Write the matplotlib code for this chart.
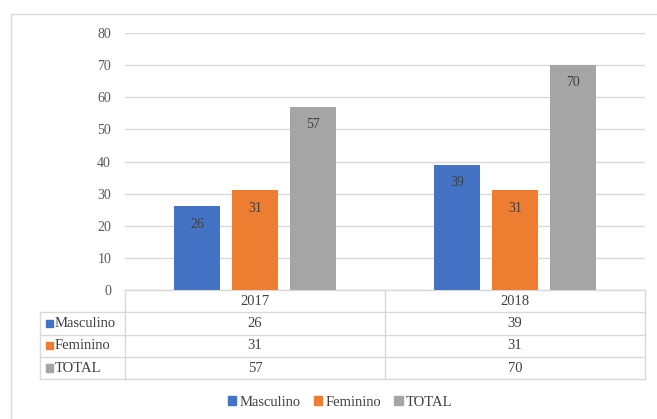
import matplotlib.pyplot as plt
from matplotlib.patches import Rectangle
import numpy as np

plt.rcParams['font.family'] = ['Liberation Serif', 'DejaVu Serif']

years = ['2017', '2018']
series = ['Masculino', 'Feminino', 'TOTAL']
masculino = [26, 39]
feminino = [31, 31]
total = [57, 70]
values = [masculino, feminino, total]
colors = ['#4472C4', '#ED7D31', '#A5A5A5']
grid_c = '#D9D9D9'
txt_c = '#595959'

W, H = 657, 419
fig = plt.figure(figsize=(W / 100, H / 100), dpi=100)
# outer chart border
fig.patches.append(Rectangle((11 / W, -0.1), 1.1, 1 - 14 / H + 0.1, transform=fig.transFigure,
                             fill=False, ec=grid_c, lw=1))

ax = fig.add_axes([125 / W, 1 - 290 / H, 520 / W, 257 / H])
x = np.arange(len(years))
offs = [-0.222, 0, 0.222]
bw = 0.178
for vals, off, c in zip(values, offs, colors):
    bars = ax.bar(x + off, vals, bw, color=c, zorder=3)
    for b, v in zip(bars, vals):
        ax.text(b.get_x() + bw / 2, v - 5.5, str(v), ha='center', va='center',
                fontsize=10, color='#404040', zorder=4)

ax.set_xlim(-0.5, 1.5)
ax.set_ylim(0, 80)
ax.set_yticks(range(0, 81, 10))
ax.yaxis.grid(True, color=grid_c, lw=1, zorder=0)
ax.tick_params(axis='y', length=0, pad=10, labelsize=10, labelcolor=txt_c)
ax.set_xticks([])
for s in ax.spines.values():
    s.set_visible(False)

# data table below the axis
tr = ax.get_xaxis_transform()
row_h = 22.3 / 257
lab_x = (40 - 125) / 520 * 2 - 0.5
kw = dict(transform=tr, clip_on=False, color=grid_c, lw=1)
ys = [0, -row_h, -2 * row_h, -3 * row_h, -4 * row_h]
ax.plot([-0.5, 1.5], [0, 0], **kw)
for yy in ys[1:]:
    ax.plot([lab_x, 1.5], [yy, yy], **kw)
ax.plot([-0.5, -0.5], [0, ys[-1]], **kw)
ax.plot([0.5, 0.5], [0, ys[-1]], **kw)
ax.plot([1.5, 1.5], [0, ys[-1]], **kw)
ax.plot([lab_x, lab_x], [ys[1], ys[-1]], **kw)
for i, yr in enumerate(years):
    ax.text(i, -row_h / 2, yr, transform=tr, ha='center', va='center', fontsize=10.5, color='#404040')
for r, (name, vals, c) in enumerate(zip(series, values, colors)):
    yc = -(r + 1.5) * row_h
    ax.add_patch(Rectangle((lab_x + 0.024, yc - 0.014), 0.027, 0.028, transform=tr,
                           color=c, clip_on=False))
    ax.text(lab_x + 0.058, yc, name, transform=tr, ha='left', va='center',
            fontsize=10.5, color='#404040')
    for i, v in enumerate(vals):
        ax.text(i, yc, str(v), transform=tr, ha='center', va='center', fontsize=10.5, color='#404040')

handles = [Rectangle((0, 0), 1, 1, color=c) for c in colors]
fig.legend(handles, series, loc='center', bbox_to_anchor=(340 / W, 1 - 402 / H), ncol=3,
           frameon=False, fontsize=10.5, handlelength=0.6, handleheight=0.6,
           handletextpad=0.2, columnspacing=0.9, labelcolor='#404040')

fig.savefig('out.png', dpi=100)
